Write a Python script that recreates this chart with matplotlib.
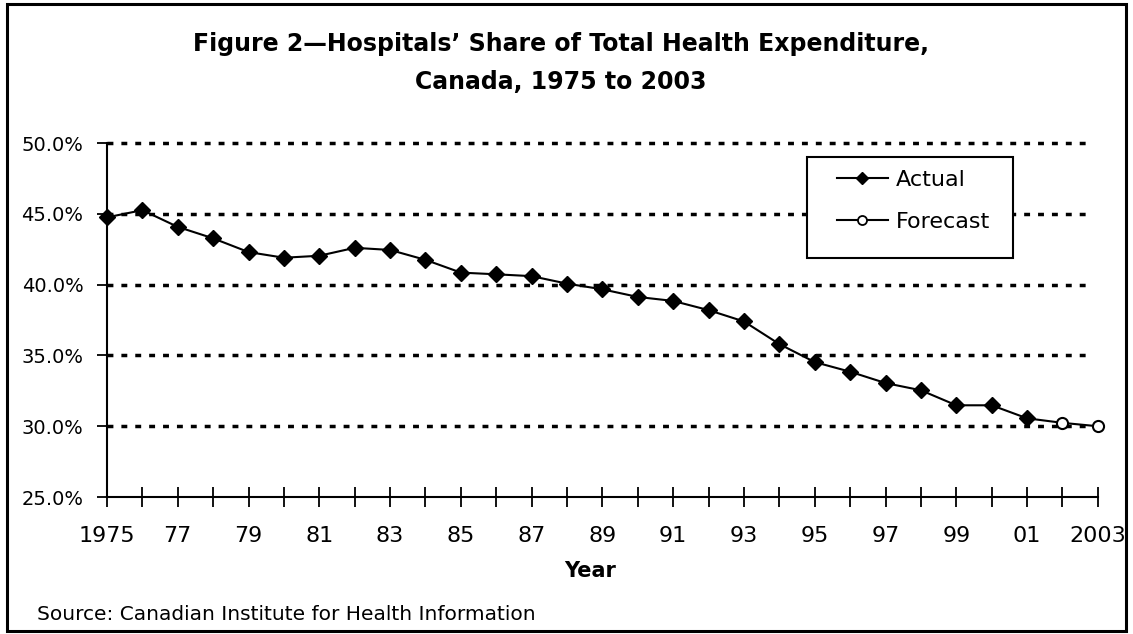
import matplotlib.pyplot as plt
from matplotlib.patches import Rectangle

years = list(range(1975, 2004))
actual = [44.75, 45.26, 44.08, 43.27, 42.3, 41.9, 42.04, 42.6, 42.45, 41.75,
          40.85, 40.73, 40.6, 40.07, 39.67, 39.13, 38.85, 38.2, 37.4, 35.8,
          34.53, 33.85, 33.05, 32.54, 31.48, 31.48, 30.56]
forecast_years = [2001, 2002, 2003]
forecast = [30.56, 30.24, 30.0]

tick_labels = ["1975", "77", "79", "81", "83", "85", "87", "89", "91", "93",
               "95", "97", "99", "01", "2003"]
y_ticks = [25, 30, 35, 40, 45, 50]

title_lines = ["Figure 2\u2014Hospitals\u2019 Share of Total Health Expenditure,",
               "Canada, 1975 to 2003"]

plt.rcParams["font.family"] = ["DejaVu Sans"]


def main():
   fig = plt.figure(figsize=(11.33, 6.34), dpi=100)
   ax = fig.add_axes([0.0944, 0.216, 0.8746, 0.5584])

   # outer frame round the whole chart
   fig.patches.append(Rectangle((0.006, 0.004), 0.988, 0.99, transform=fig.transFigure,
                                fill=False, edgecolor="black", linewidth=2.2))

   for y in y_ticks[1:]:
      ax.axhline(y, xmin=0, xmax=0.995, color="black", linewidth=2.5,
                 linestyle=(0, (1.7, 2.3)), zorder=1, clip_on=False)

   ax.plot(forecast_years, forecast, color="black", linewidth=1.5, zorder=2)
   ax.plot(forecast_years[1:], forecast[1:], color="black", marker="o",
           markersize=8, markerfacecolor="white", markeredgewidth=1.5,
           linestyle="none", zorder=3, clip_on=False)
   ax.plot(years[:len(actual)], actual, color="black", linewidth=1.5, marker="D",
           markersize=8.5, zorder=3, clip_on=False)

   # legend: frame drawn separately so the padding can differ per side
   ax.add_patch(Rectangle((0.7064, 0.675), 0.2078, 0.2855, transform=ax.transAxes,
                          fill=True, facecolor="white", edgecolor="black",
                          linewidth=1.5, zorder=4))
   h1, = ax.plot([], [], color="black", linewidth=1.5, marker="D", markersize=6.5)
   h2, = ax.plot([], [], color="black", linewidth=1.5, marker="o", markersize=6.5,
                 markerfacecolor="white", markeredgewidth=1.3)
   leg = ax.legend([h1, h2], ["Actual", "Forecast"], loc="upper left",
                   bbox_to_anchor=(0.7366, 0.925), frameon=False, fontsize=16,
                   handlelength=2.3, handletextpad=0.35, labelspacing=1.0,
                   borderpad=0, borderaxespad=0)
   leg.set_zorder(5)

   ax.set_xlim(1975, 2003)
   ax.set_ylim(25, 50)
   ax.set_yticks(y_ticks)
   ax.set_yticklabels([f"{v:.1f}%" for v in y_ticks], fontsize=14)
   ax.set_xticks(list(range(1975, 2004, 2)))
   ax.set_xticklabels(tick_labels, fontsize=16)
   ax.set_xticks(years, minor=True)
   ax.tick_params(axis="x", which="both", direction="inout", length=14, width=1.3,
                  pad=14, color="black")
   ax.tick_params(axis="y", direction="out", length=7, width=1.3, pad=10)

   for side in ("top", "right"):
      ax.spines[side].set_visible(False)
   for side in ("left", "bottom"):
      ax.spines[side].set_linewidth(1.5)

   fig.text(0.521, 0.1, "Year", ha="center", va="center", fontsize=15,
            fontweight="bold")

   fig.text(0.495, 0.9306, title_lines[0], ha="center", va="center", fontsize=17,
            fontweight="bold")
   fig.text(0.495, 0.8707, title_lines[1], ha="center", va="center", fontsize=17,
            fontweight="bold")
   fig.text(0.0327, 0.0315, "Source: Canadian Institute for Health Information",
            fontsize=14.5, ha="left", va="center")

   fig.savefig("out.png", dpi=100)


if __name__ == "__main__":
   main()
